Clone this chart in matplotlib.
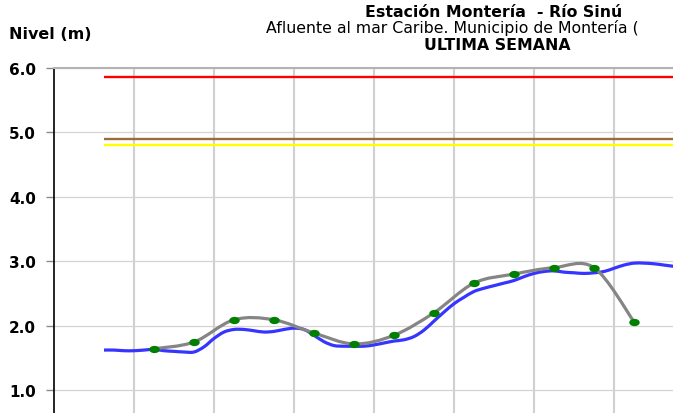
import numpy as np
import matplotlib
matplotlib.use("Agg")
import matplotlib.pyplot as plt
from matplotlib.path import Path
from matplotlib.patches import PathPatch
from matplotlib.transforms import Affine2D

plt.rcParams["font.family"] = ["DejaVu Sans"]

# -----------------------------
# Data (hours from start of the week)
# -----------------------------
# observed level, every 3 hours
obs_start = 15
obs_step = 3
obs_level = [1.62, 1.62, 1.61, 1.61, 1.62, 1.63, 1.61, 1.60, 1.59, 1.59,
             1.67, 1.80, 1.90, 1.94, 1.94, 1.92, 1.90, 1.91, 1.94, 1.96,
             1.94, 1.85, 1.75, 1.69, 1.68, 1.68, 1.68, 1.70, 1.73, 1.76,
             1.78, 1.83, 1.93, 2.07, 2.21, 2.34, 2.44, 2.53, 2.58, 2.62,
             2.66, 2.70, 2.76, 2.81, 2.84, 2.85, 2.83, 2.82, 2.81, 2.82,
             2.84, 2.89, 2.94, 2.97, 2.97, 2.96, 2.94, 2.92]
obs_hours = obs_start + obs_step * np.arange(len(obs_level))

# twice-daily readings
read_hours = [30, 42, 54, 66, 78, 90, 102, 114, 126, 138, 150, 162, 174]
read_level = [1.64, 1.745, 2.09, 2.09, 1.885, 1.715, 1.85, 2.20, 2.66,
              2.80, 2.90, 2.90, 2.06]

# alert thresholds
alert_start = 15
alert_levels = [5.86, 4.90, 4.80]
alert_colors = ["#ff0000", "#9c6b3c", "#ffff00"]

y_ticks = [1, 2, 3, 4, 5, 6]
day_ticks = [24, 48, 72, 96, 120, 144, 168]

# -----------------------------
# Helpers
# -----------------------------
def smooth_path(x, y):
    """Catmull-Rom style curve through the points, as cubic Bezier segments."""
    pts = np.column_stack([x, y]).astype(float)
    n = len(pts)
    verts = [pts[0]]
    codes = [Path.MOVETO]
    for i in range(n - 1):
        p0 = pts[i - 1] if i > 0 else pts[i]
        p1 = pts[i]
        p2 = pts[i + 1]
        p3 = pts[i + 2] if i + 2 < n else pts[i + 1]
        c1 = p1 + (p2 - p0) / 6.0
        c2 = p2 - (p3 - p1) / 6.0
        verts += [c1, c2, p2]
        codes += [Path.CURVE4] * 3
    return Path(verts, codes)


W, H = 673, 414
fig = plt.figure(figsize=(W / 100, H / 100), dpi=100)

left_px, top_px = 54, 69
ax = fig.add_axes([left_px / W, 0, 1 - left_px / W, 1 - top_px / H])

x_max = (W - left_px) / 80 * 24
y_min = 6.0 - (H - top_px) / 64.4

# grid
ax.set_yticks(y_ticks)
ax.set_yticklabels(["%.1f" % v for v in y_ticks], fontsize=11, fontweight="bold")
ax.set_xticks(day_ticks)
ax.tick_params(axis="x", length=0, labelbottom=False)
ax.tick_params(axis="y", length=6, width=1, color="#8a8a8a", pad=7)
ax.grid(axis="y", color="#d4d4d4", lw=0.9)
ax.grid(axis="x", color="#d0d0d0", lw=1.5)
ax.set_axisbelow(True)

for side in ["right", "bottom"]:
    ax.spines[side].set_visible(False)
ax.spines["top"].set_color("#b3b3b3")
ax.spines["top"].set_linewidth(1.5)
ax.spines["left"].set_color("black")
ax.spines["left"].set_linewidth(1.2)

# thresholds
for lvl, col in zip(alert_levels, alert_colors):
    ax.plot([alert_start, x_max + 10], [lvl, lvl], color=col, lw=1.7,
            solid_capstyle="butt", zorder=2)

# observed series
ax.add_patch(PathPatch(smooth_path(obs_hours, obs_level), fill=False,
                       edgecolor="#3535ff", lw=2.3, zorder=3))

# readings with smoothed line
ax.add_patch(PathPatch(smooth_path(read_hours, read_level), fill=False,
                       edgecolor="#858585", lw=2.3, zorder=4))
oval = Path.unit_circle().transformed(Affine2D().scale(1.0, 0.65))
ax.plot(read_hours, read_level, ls="none", marker=oval, ms=6.5,
        color="#008000", mec="#008000", zorder=5)

ax.set_xlim(0, x_max)
ax.set_ylim(y_min, 6.0)

# titles
def px_text(x, y, s, **kw):
    fig.text(x / W, 1 - y / H, s, va="baseline", **kw)

px_text(9, 39, "Nivel (m)", fontsize=11.5, fontweight="bold")
px_text(494, 17, "Estación Montería  - Río Sinú", fontsize=11.3,
        fontweight="bold", ha="center")
px_text(452, 33.5, "Afluente al mar Caribe. Municipio de Montería (",
        fontsize=11.3, ha="center")
px_text(497, 50, "ULTIMA SEMANA", fontsize=11.3, fontweight="bold", ha="center")

fig.savefig("out.png", dpi=100)
